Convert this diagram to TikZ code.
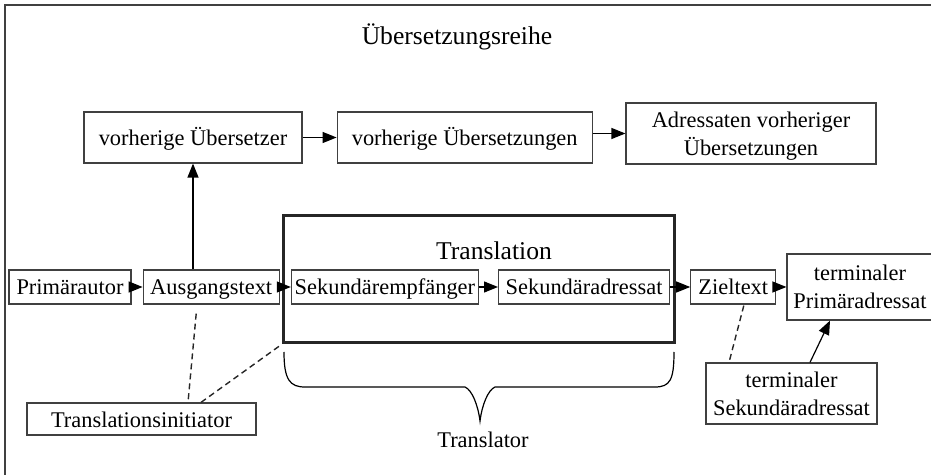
\documentclass[tikz,border=0pt]{standalone}
\usepackage{fontspec}
\setmainfont{Liberation Serif}
\usetikzlibrary{arrows.meta,positioning,calc}
\definecolor{boxline}{HTML}{404040}

\begin{document}
\begin{tikzpicture}[
  x=0.5pt, y=-0.5pt,
  node distance=5.5pt,
  box/.style={draw=boxline, line width=0.6pt, minimum height=17pt, inner sep=1pt, align=center, text depth=0pt, font=\fontsize{11.2}{14}\selectfont},
  one/.style={text height=8pt},
  bigtxt/.style={font=\fontsize{12.8}{15}\selectfont},
  arr/.style={-{Triangle[length=7pt,width=5.5pt]}, line width=0.6pt, black},
  dsh/.style={line width=0.7pt, black!85, dash pattern=on 3pt off 2pt},
]
  \clip (0,0) rectangle (931,475);
  \draw[boxline, line width=0.6pt] (5,5) rectangle (960,500);

  \node[bigtxt] (title) at (457,37) {Übersetzungsreihe};

  % upper row
  \node[box, one, minimum width=109pt, minimum height=25.5pt] (vueb) at (193,137.5) {vorherige Übersetzer};
  \node[box, one, minimum width=127.5pt, minimum height=25.5pt, right=17pt of vueb] (vuebs) {vorherige Übersetzungen};
  \node[box, minimum width=125pt, minimum height=30.5pt] (adr) at (751,133.5) {Adressaten vorheriger\\Übersetzungen};

  % translation frame
  \node[draw=black!85, line width=1.5pt, minimum width=195.5pt, minimum height=63.5pt, inner sep=0pt] (trans) at (478.5,279.5) {};
  \node[bigtxt] (translbl) at (494,251) {Translation};

  % main row
  \node[box, one, minimum width=61pt] (prim) at (70,287) {Primärautor};
  \node[box, one, minimum width=68pt, right=of prim] (ausg) {Ausgangstext};
  \node[box, one, minimum width=93.5pt, right=of ausg] (sekemp) {Sekundärempfänger};
  \node[box, one, minimum width=85.5pt, right=9.5pt of sekemp] (sekadr) {Sekundäradressat};
  \node[box, one, minimum width=42.5pt, right=10pt of sekadr] (ziel) {Zieltext};
  \node[box, minimum width=73pt, minimum height=33pt, right=5pt of ziel] (termprim) {terminaler\\Primäradressat};

  % lower boxes
  \node[box, one, minimum width=114.5pt, minimum height=16pt] (init) at (141.5,419) {Translationsinitiator};
  \node[box, minimum width=85.5pt, minimum height=30.5pt] (termsek) at (791.5,393.5) {terminaler\\Sekundäradressat};

  % brace
  \draw[line width=0.6pt] (284,352) .. controls (284,380) and (290,387) .. (305,387) -- (465,387)
    .. controls (472,390) and (478,405) .. (480,421) .. controls (482,405) and (488,390) .. (495,387)
    -- (655,387) .. controls (670,387) and (674,380) .. (674,352);
  \node[font=\fontsize{11.2}{14}\selectfont] (translator) at (483,440) {Translator};

  % arrows
  \draw[arr] (prim) -- (ausg);
  \draw[arr] (ausg) -- (sekemp);
  \draw[arr] (sekemp) -- (sekadr);
  \draw[arr] (sekadr) -- (ziel);
  \draw[arr] (ziel.east) -- (ziel.east -| termprim.west);
  \draw[arr] (vueb.south |- ausg.north) -- (vueb.south);
  \draw[arr] (vueb) -- (vuebs);
  \draw[arr] (vuebs.east |- adr.west) -- (adr.west);
  \draw[arr] ($(termsek.north)+(18.5,0)$) -- ($(termprim.south)+(-30,0)$);

  % dashed links
  \draw[dsh] ($(ausg.south)+(-15,9)$) -- ($(init.north)+(46.5,0)$);
  \draw[dsh] ($(init.north)+(59.5,0)$) -- (trans.south west);
  \draw[dsh] ($(ziel.south)+(10.5,1)$) -- ($(termsek.north)+(-62.5,0)$);
\end{tikzpicture}
\end{document}
